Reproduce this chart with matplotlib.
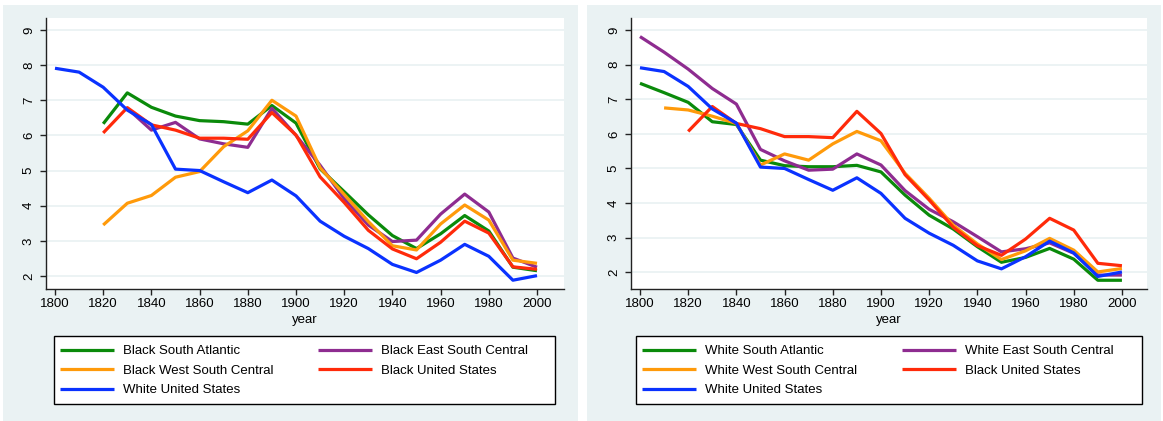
import numpy as np
import matplotlib.pyplot as plt
from matplotlib.patches import Rectangle

plt.rcParams['font.family'] = ['Liberation Sans', 'DejaVu Sans']

years = np.arange(1800, 2001, 10)
nan = np.nan

# shared series
white_us = [7.91, 7.80, 7.37, 6.72, 6.31, 5.04, 5.00, 4.68, 4.37, 4.73, 4.28,
            3.56, 3.13, 2.78, 2.33, 2.10, 2.45, 2.90, 2.56, 1.88, 2.01]
black_us = [nan, nan, 6.07, 6.79, 6.30, 6.15, 5.92, 5.92, 5.89, 6.65, 6.01,
            4.82, 4.09, 3.30, 2.77, 2.49, 2.96, 3.56, 3.22, 2.26, 2.19]

# left panel: black regions
black_sa = [nan, nan, 6.33, 7.21, 6.80, 6.55, 6.42, 6.39, 6.32, 6.85, 6.35,
            5.05, 4.40, 3.74, 3.15, 2.78, 3.20, 3.72, 3.28, 2.25, 2.15]
black_esc = [nan, nan, nan, 6.77, 6.15, 6.37, 5.90, 5.76, 5.66, 6.77, 6.00,
             5.15, 4.20, 3.45, 2.98, 3.02, 3.76, 4.33, 3.82, 2.51, 2.25]
black_wsc = [nan, nan, 3.45, 4.07, 4.29, 4.81, 4.97, 5.68, 6.13, 7.00, 6.55,
             5.08, 4.32, 3.55, 2.86, 2.74, 3.48, 4.02, 3.59, 2.45, 2.36]

# right panel: white regions
white_sa = [7.46, 7.19, 6.91, 6.35, 6.27, 5.24, 5.08, 5.05, 5.05, 5.09, 4.90,
            4.23, 3.65, 3.25, 2.74, 2.29, 2.43, 2.69, 2.38, 1.77, 1.77]
white_esc = [8.81, 8.36, 7.87, 7.31, 6.86, 5.55, 5.22, 4.95, 4.98, 5.42, 5.10,
             4.36, 3.82, 3.46, 3.03, 2.59, 2.68, 2.85, 2.55, 1.92, 1.92]
white_wsc = [nan, 6.75, 6.69, 6.51, 6.30, 5.10, 5.42, 5.24, 5.71, 6.07, 5.80,
             4.86, 4.14, 3.36, 2.82, 2.37, 2.62, 2.98, 2.64, 2.01, 2.11]

green = '#0a8a0a'
purple = '#8e2c90'
orange = '#ff9a0a'
red = '#ff2a0a'
blue = '#0a32ff'
bg = '#eaf2f3'

W, H = 1163, 421
fig = plt.figure(figsize=(W / 100, H / 100), dpi=100)

# panel backgrounds
for x0, x1 in [(3, 578), (587, 1161)]:
    fig.add_artist(Rectangle((x0 / W, 0), (x1 - x0) / W, (H - 5) / H,
                             transform=fig.transFigure, facecolor=bg,
                             edgecolor='none', zorder=-10))

panels = [
    dict(left=46, right=564, ylim=(1.644, 9.34), xlim=(1796.27, 2011.2),
         series=[(black_sa, green, 'Black South Atlantic'),
                 (black_esc, purple, 'Black East South Central'),
                 (black_wsc, orange, 'Black West South Central'),
                 (black_us, red, 'Black United States'),
                 (white_us, blue, 'White United States')],
         leg=(54, 555)),
    dict(left=631, right=1147, ylim=(1.532, 9.347), xlim=(1796.27, 2010.4),
         series=[(white_sa, green, 'White South Atlantic'),
                 (white_esc, purple, 'White East South Central'),
                 (white_wsc, orange, 'White West South Central'),
                 (black_us, red, 'Black United States'),
                 (white_us, blue, 'White United States')],
         leg=(636, 1142)),
]

top, bottom = 18, 288.5
for p in panels:
    ax = fig.add_axes([p['left'] / W, (H - bottom) / H,
                       (p['right'] - p['left']) / W, (bottom - top) / H])
    ax.set_zorder(2)
    ax.set_facecolor('white')
    handles = []
    for vals, col, lab in p['series']:
        h, = ax.plot(years, vals, color=col, lw=2.3, label=lab,
                     solid_capstyle='butt')
        handles.append(h)
    ax.set_xlim(*p['xlim'])
    ax.set_ylim(*p['ylim'])
    ax.set_xticks(np.arange(1800, 2001, 20))
    ax.set_yticks(np.arange(2, 10))
    ax.grid(axis='y', color=bg, lw=1.3)
    ax.set_axisbelow(True)
    for s in ['top', 'right']:
        ax.spines[s].set_visible(False)
    for s in ['left', 'bottom']:
        ax.spines[s].set_linewidth(1.0)
        ax.spines[s].set_color('#222222')
    ax.tick_params(axis='both', length=4, width=1.0, color='#222222',
                   labelsize=9.5)
    ax.tick_params(axis='x', pad=3)
    ax.tick_params(axis='y', pad=4)
    for t in ax.get_yticklabels():
        t.set_rotation(90)
        t.set_va('center')
    ax.set_xlabel('year', fontsize=9.5, labelpad=3)

    # legend frame drawn separately, entries placed inside it
    lx0, lx1 = p['leg']
    fig.add_artist(Rectangle((lx0 / W, (H - 404) / H), (lx1 - lx0) / W, 68 / H,
                             transform=fig.transFigure, facecolor='white',
                             edgecolor='black', lw=1.0, zorder=3))
    order = [0, 2, 4, 1, 3]
    leg = fig.legend([handles[i] for i in order],
                     [handles[i].get_label() for i in order],
                     loc='upper left', ncol=2,
                     bbox_to_anchor=((lx0 + 6) / W, (H - 345) / H),
                     bbox_transform=fig.transFigure, borderaxespad=0,
                     borderpad=0, frameon=False,
                     fontsize=9.5, handlelength=4.1, handletextpad=0.7,
                     labelspacing=0.56, columnspacing=3.35)
    leg.set_zorder(4)

fig.savefig('out.png', dpi=100, facecolor='white')
